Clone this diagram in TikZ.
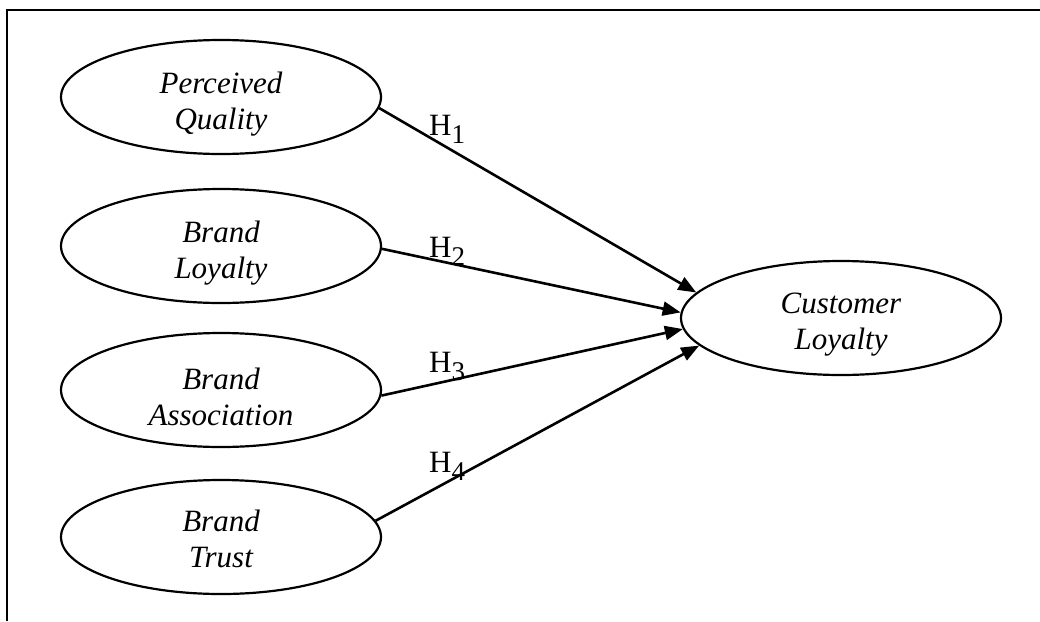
\documentclass[tikz,border=0pt]{standalone}
\usepackage{fontspec}
\setmainfont{Liberation Serif}
\usetikzlibrary{shapes.geometric,arrows.meta}
\newcommand\hsub[1]{\raisebox{-8pt}{\fontsize{27}{27}\selectfont #1}}
\tikzset{
  construct/.style={ellipse, draw, line width=2.2pt, minimum width=320pt, minimum height=114pt,
    inner sep=0pt},
  ctext/.style={align=center, inner sep=0pt, yshift=-7pt, font=\fontsize{31}{36}\selectfont\itshape},
  hyp/.style={line width=2.6pt, -{Triangle[length=18pt,width=14pt]}},
  hlab/.style={anchor=base west, inner sep=0pt, font=\fontsize{31}{31}\selectfont},
  frameline/.style={line width=2.8pt}
}
\begin{document}
\begin{tikzpicture}[x=1pt,y=-1pt]
\useasboundingbox (0,0) rectangle (1040,621);
\draw[frameline] (1040,10) -- (7,10) -- (7,621);
\node[construct, label={[ctext]center:Perceived\\Quality}] (pq) at (221,97) {};
\node[construct, label={[ctext]center:Brand\\Loyalty}] (bl) at (221,246) {};
\node[construct, label={[ctext]center:Brand\\Association}] (ba) at (221,390) {};
\node[construct, label={[ctext, yshift=5pt]center:Brand\\Trust}] (bt) at (221,537) {};
\node[construct, label={[ctext]center:Customer\\Loyalty}] (cl) at (841,318) {};
\draw[hyp] (pq.-4) -- (cl.170);
\draw[hyp] (bl.-1) -- (cl.178);
\draw[hyp] (ba.-2) -- (cl.184);
\draw[hyp] (bt.6) -- (cl.191);
\node[hlab] (h1) at (429,135) {H\hsub{1}};
\node[hlab] (h2) at (429,257) {H\hsub{2}};
\node[hlab] (h3) at (429,372) {H\hsub{3}};
\node[hlab] (h4) at (429,472) {H\hsub{4}};
\end{tikzpicture}
\end{document}
